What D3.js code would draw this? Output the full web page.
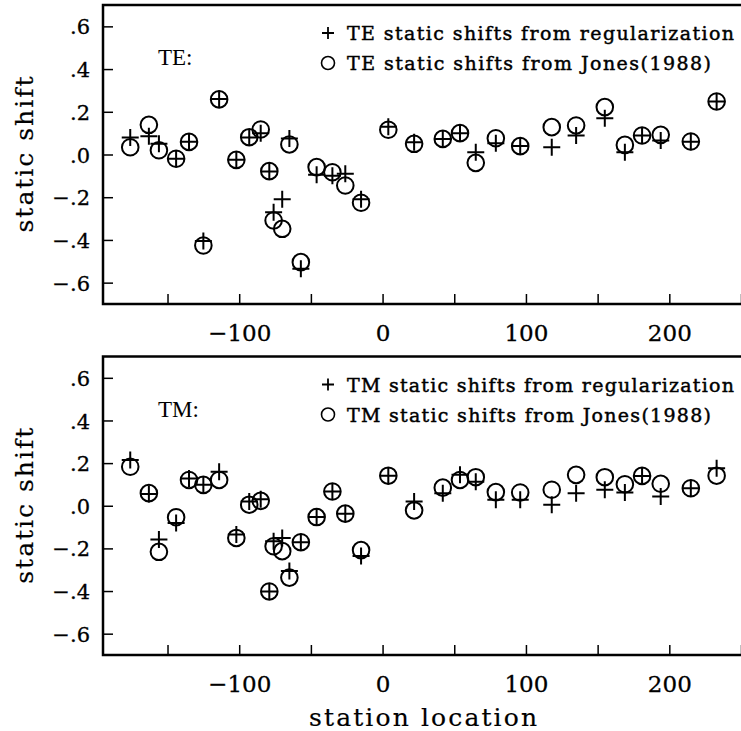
<!DOCTYPE html>
<html><head><meta charset="utf-8">
<script src="https://cdn.jsdelivr.net/npm/d3@7"></script>
<style>body{margin:0;background:#fff}svg{display:block}</style>
</head><body><svg id="c" width="741" height="731"></svg>
<script>
// station locations (km)
const stations = [-176, -163, -156, -144, -135, -125, -114, -102, -93, -85, -79, -76, -70, -65, -57, -46, -35, -26, -15, 4, 22, 42, 54, 65, 79, 96, 118, 135, 155, 169, 181, 194, 215, 233];
// TE static shifts
const teRegularization = [0.08, 0.085, 0.05, -0.02, 0.06, -0.405, 0.26, -0.025, 0.08, 0.10, -0.08, -0.27, -0.21, 0.075, -0.535, -0.095, -0.10, -0.09, -0.21, 0.13, 0.057, 0.073, 0.10, 0.01, 0.053, 0.04, 0.034, 0.089, 0.17, 0.011, 0.089, 0.066, 0.06, 0.248];
const teJones = [0.034, 0.139, 0.02, -0.02, 0.059, -0.426, 0.258, -0.025, 0.081, 0.117, -0.078, -0.309, -0.348, 0.047, -0.504, -0.059, -0.083, -0.145, -0.226, 0.116, 0.05, 0.073, 0.10, -0.039, 0.076, 0.039, 0.128, 0.136, 0.222, 0.045, 0.089, 0.092, 0.061, 0.248];
// TM static shifts
const tmRegularization = [0.214, 0.055, -0.158, -0.081, 0.128, 0.098, 0.16, -0.135, 0.02, 0.03, -0.402, -0.166, -0.151, -0.306, -0.171, -0.053, 0.067, -0.037, -0.236, 0.141, 0.02, 0.059, 0.145, 0.113, 0.028, 0.028, 0.005, 0.059, 0.075, 0.062, 0.14, 0.043, 0.082, 0.176];
const tmJones = [0.183, 0.059, -0.216, -0.054, 0.121, 0.098, 0.121, -0.151, 0.005, 0.023, -0.402, -0.19, -0.213, -0.337, -0.171, -0.053, 0.067, -0.037, -0.208, 0.141, -0.022, 0.085, 0.121, 0.134, 0.064, 0.062, 0.075, 0.145, 0.134, 0.101, 0.14, 0.103, 0.082, 0.141];

const xTicks = [-150, -100, -50, 0, 50, 100, 150, 200, 250];
const xTickLabels = [-100, 0, 100, 200];
const yTicks = [-0.6, -0.4, -0.2, 0, 0.2, 0.4, 0.6];

const panelDefs = [
  {tag: "TE:", reg: teRegularization, jones: teJones,
   leg1: "TE static shifts from regularization", leg2: "TE static shifts from Jones(1988)"},
  {tag: "TM:", reg: tmRegularization, jones: tmJones,
   leg1: "TM static shifts from regularization", leg2: "TM static shifts from Jones(1988)"}
];

const svg = d3.select("#c");
const serif = "DejaVu Serif";
const x = d3.scaleLinear().domain([-195, 250]).range([103, 741]);
const frames = [{top: 5, bottom: 304}, {top: 356.5, bottom: 655}];

const fmtX = d => xTickLabels.includes(d) ? (d < 0 ? "\u2212" + Math.abs(d) : String(d)) : "";
const fmtY = d => {
  const v = Math.round(Math.abs(d) * 10);
  return (d < -1e-9 ? "\u2212" : "") + "." + v;
};

panelDefs.forEach((p, i) => {
  const f = frames[i];
  const y = d3.scaleLinear().domain([-0.7, 0.7]).range([f.bottom, f.top]);
  const g = svg.append("g");

  // x axis
  const xa = g.append("g").attr("transform", `translate(0,${f.bottom})`)
    .call(d3.axisBottom(x).tickValues(xTicks).tickSizeInner(-10).tickSizeOuter(0).tickFormat(fmtX));
  xa.select(".domain").remove();
  xa.selectAll(".tick line").attr("stroke", "#000").attr("stroke-width", 1.5);
  xa.selectAll(".tick text").attr("y", 37).attr("dy", 0)
    .attr("font-family", serif).attr("font-size", 23).attr("fill", "#000")
    .attr("stroke", "#000").attr("stroke-width", 0.3);

  // y axis
  const ya = g.append("g").attr("transform", `translate(${x.range()[0]},0)`)
    .call(d3.axisLeft(y).tickValues(yTicks).tickSizeInner(-10).tickSizeOuter(0).tickFormat(fmtY));
  ya.select(".domain").remove();
  ya.selectAll(".tick line").attr("stroke", "#000").attr("stroke-width", 1.5);
  ya.selectAll(".tick text").attr("x", -13).attr("dy", "0.36em")
    .attr("font-family", serif).attr("font-size", 21).attr("fill", "#000")
    .attr("stroke", "#000").attr("stroke-width", 0.3);

  // frame (left, top, bottom)
  g.append("path")
    .attr("d", `M${x.range()[1]},${f.top}H${x.range()[0]}V${f.bottom}H${x.range()[1]}`)
    .attr("fill", "none").attr("stroke", "#000").attr("stroke-width", 2.5);

  // y label
  g.append("text").text("static shift")
    .attr("transform", `translate(33,${(f.top + f.bottom) / 2}) rotate(-90)`)
    .attr("text-anchor", "middle").attr("font-family", serif).attr("font-size", 25)
    .attr("textLength", 156).attr("lengthAdjust", "spacing").attr("fill", "#000")
    .attr("stroke", "#000").attr("stroke-width", 0.2);

  // panel tag
  g.append("text").text(p.tag).attr("x", 158).attr("y", f.top + 60)
    .attr("font-family", "Liberation Serif").attr("font-size", 23).attr("fill", "#000");

  // legend
  const lx = 328;
  g.append("path")
    .attr("d", `M${lx - 6},${f.top + 28}h12M${lx},${f.top + 22}v12`)
    .attr("stroke", "#000").attr("stroke-width", 1.8);
  g.append("circle").attr("cx", lx).attr("cy", f.top + 58).attr("r", 6.5)
    .attr("fill", "none").attr("stroke", "#000").attr("stroke-width", 1.6);
  g.append("text").text(p.leg1).attr("x", 347).attr("y", f.top + 35)
    .attr("font-family", serif).attr("font-size", 19).attr("textLength", 387)
    .attr("lengthAdjust", "spacing").attr("fill", "#000")
    .attr("stroke", "#000").attr("stroke-width", 0.45);
  g.append("text").text(p.leg2).attr("x", 347).attr("y", f.top + 65)
    .attr("font-family", serif).attr("font-size", 19).attr("textLength", 364)
    .attr("lengthAdjust", "spacing").attr("fill", "#000")
    .attr("stroke", "#000").attr("stroke-width", 0.45);

  // circles (Jones 1988)
  g.append("g").selectAll("circle").data(stations.map((s, k) => [s, p.jones[k]]))
    .join("circle").attr("cx", d => x(d[0])).attr("cy", d => y(d[1])).attr("r", 8.3)
    .attr("fill", "none").attr("stroke", "#000").attr("stroke-width", 2);

  // plus (regularization)
  const h = 8.5;
  g.append("g").selectAll("path").data(stations.map((s, k) => [s, p.reg[k]]))
    .join("path")
    .attr("d", d => `M${x(d[0]) - h},${y(d[1])}h${2 * h}M${x(d[0])},${y(d[1]) - h}v${2 * h}`)
    .attr("stroke", "#000").attr("stroke-width", 2).attr("fill", "none");
});

// x label
svg.append("text").text("station location")
  .attr("x", 423).attr("y", 726).attr("text-anchor", "middle")
  .attr("font-family", serif).attr("font-size", 25)
  .attr("textLength", 228).attr("lengthAdjust", "spacing").attr("fill", "#000")
  .attr("stroke", "#000").attr("stroke-width", 0.2);
</script>
</body></html>
